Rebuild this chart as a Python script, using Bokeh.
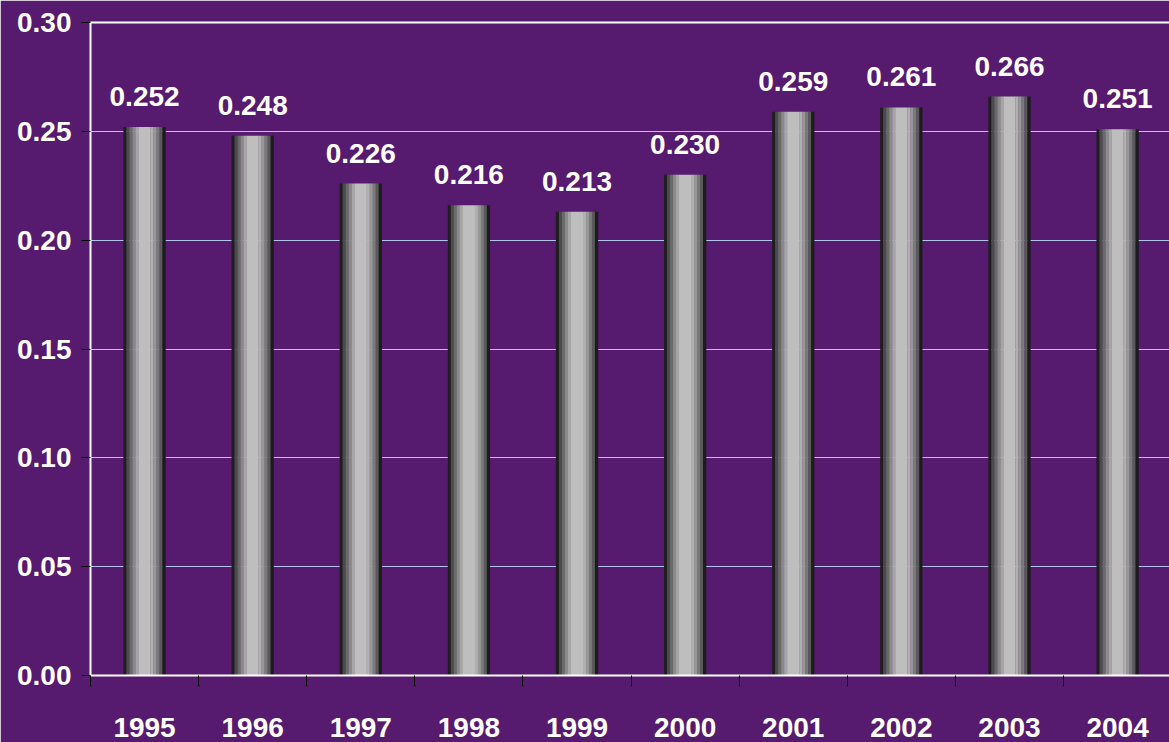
from bokeh.plotting import figure
from bokeh.models import ColumnDataSource, FixedTicker, Range1d, LinearAxis, NumeralTickFormatter
from bokeh.transform import dodge
from bokeh.core.properties import value
from bokeh.embed import file_html
from bokeh.resources import INLINE

# ---- data ----
years = ["1995", "1996", "1997", "1998", "1999", "2000", "2001", "2002", "2003", "2004"]
values = [0.252, 0.248, 0.226, 0.216, 0.213, 0.230, 0.259, 0.261, 0.266, 0.251]
y_ticks = [0.0, 0.05, 0.10, 0.15, 0.20, 0.25, 0.30]

BG = "#561a6e"
FONT = "Liberation Sans"
FSIZE = "28px"

centers = [i + 0.5 for i in range(len(years))]
boundaries = list(range(len(years) + 1))
src = ColumnDataSource(dict(x=centers, v=values, lab=["%.3f" % v for v in values]))

p = figure(width=1169, height=742,
           x_range=Range1d(0, 9.98), y_range=Range1d(0, 0.30),
           output_backend="svg", toolbar_location=None,
           background_fill_color=BG, border_fill_color=BG,
           min_border_left=90, min_border_top=22, min_border_right=0, min_border_bottom=67,
           outline_line_color=None)

# cylinder-like bars: layered strips
px = 0.389 / 42.0  # data width of one pixel column
strips = [(3, "#1e1e1e"), (3, "#4b4b4b"), (3, "#6a6a6a"), (3, "#8a8a8a"), (3, "#a6a6a6"),
          (12, "#bebebe"), (3, "#b0b0b0"), (3, "#989898"), (3, "#7a7a7a"), (3, "#595959"), (3, "#1c1c1c")]
left = -0.389 / 2
for w, c in strips:
    off = left + w * px / 2
    p.vbar(x=dodge("x", off, range=p.x_range), top="v", bottom=0, width=w * px + 0.002,
           source=src, fill_color=c, line_color=None)
    left += w * px

p.text(x="x", y="v", text="lab", source=src, text_align="center", text_baseline="bottom",
       y_offset=-21, text_color="white", text_font=value(FONT), text_font_style="bold",
       text_font_size=FSIZE)

# grid
p.xgrid.grid_line_color = None
p.ygrid.ticker = FixedTicker(ticks=y_ticks[1:-1])
p.ygrid.grid_line_color = "#b4c3ea"
p.ygrid.grid_line_width = 1

# y axis
ya = p.yaxis[0]
ya.ticker = FixedTicker(ticks=y_ticks)
ya.formatter = NumeralTickFormatter(format="0.00")
ya.axis_line_color = "white"
ya.axis_line_width = 2
ya.major_tick_out = 9
ya.major_tick_in = 0
ya.major_tick_line_color = "black"
ya.minor_tick_line_color = None
ya.major_label_text_color = "white"
ya.major_label_text_font = FONT
ya.major_label_text_font_style = "bold"
ya.major_label_text_font_size = FSIZE
ya.major_label_standoff = 10

# x axis
xa = p.xaxis[0]
xa.ticker = FixedTicker(ticks=centers, minor_ticks=boundaries)
xa.major_label_overrides = {c: y for c, y in zip(centers, years)}
xa.axis_line_color = "white"
xa.axis_line_width = 2
xa.major_tick_out = 0
xa.major_tick_in = 0
xa.minor_tick_out = 11
xa.minor_tick_in = 0
xa.minor_tick_line_color = "black"
xa.major_label_text_color = "white"
xa.major_label_text_font = FONT
xa.major_label_text_font_style = "bold"
xa.major_label_text_font_size = FSIZE
xa.major_label_standoff = 31

# top border
top = LinearAxis(ticker=FixedTicker(ticks=[]), axis_line_color="white", axis_line_width=2,
                 major_tick_out=0, major_tick_in=0, minor_tick_out=0, minor_tick_in=0,
                 major_label_text_font_size="0px")
p.add_layout(top, "above")

open("out.html", "w").write(file_html(p, INLINE))
